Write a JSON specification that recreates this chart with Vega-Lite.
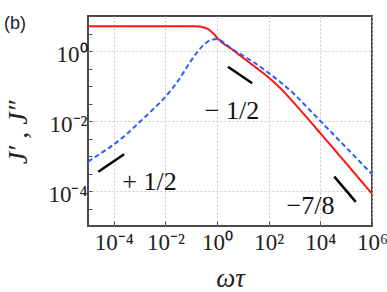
{
  "$schema": "https://vega.github.io/schema/vega-lite/v6.json",
  "width": 284,
  "height": 210,
  "autosize": {"type": "none"},
  "padding": {"left": 88, "top": 16, "right": 15, "bottom": 66},
  "background": "white",
  "config": {
    "view": {"stroke": "#4a4a4a", "strokeWidth": 2},
    "axis": {"domain": false, "labelColor": "#222", "tickColor": "#555", "tickWidth": 1, "titleColor": "#222"}
  },
  "title": {
    "text": "(b)",
    "anchor": "start",
    "frame": "group",
    "font": "Liberation Sans",
    "fontSize": 18,
    "fontWeight": "normal",
    "color": "#222",
    "offset": 0,
    "dx": -84,
    "dy": 25
  },
  "datasets": {
    "curves": [
      {"s": "J1", "x": 1e-5, "y": 5.129},
      {"s": "J1", "x": 0.01, "y": 5.129},
      {"s": "J1", "x": 0.1, "y": 5.129},
      {"s": "J1", "x": 0.1995, "y": 5.012},
      {"s": "J1", "x": 0.3162, "y": 4.677},
      {"s": "J1", "x": 0.5012, "y": 3.981},
      {"s": "J1", "x": 0.7079, "y": 3.162},
      {"s": "J1", "x": 1, "y": 2.399},
      {"s": "J1", "x": 1.413, "y": 1.862},
      {"s": "J1", "x": 1.995, "y": 1.514},
      {"s": "J1", "x": 3.162, "y": 1.23},
      {"s": "J1", "x": 5.623, "y": 0.8913},
      {"s": "J1", "x": 10, "y": 0.6457},
      {"s": "J1", "x": 31.62, "y": 0.3388},
      {"s": "J1", "x": 100, "y": 0.1738},
      {"s": "J1", "x": 316.2, "y": 0.07943},
      {"s": "J1", "x": 1000, "y": 0.03162},
      {"s": "J1", "x": 3162, "y": 0.01202},
      {"s": "J1", "x": 10000, "y": 0.004467},
      {"s": "J1", "x": 31623, "y": 0.001660},
      {"s": "J1", "x": 100000, "y": 0.000617},
      {"s": "J1", "x": 316228, "y": 0.0002265},
      {"s": "J1", "x": 1000000, "y": 0.00008318},
      {"s": "J2", "x": 1e-5, "y": 0.000692},
      {"s": "J2", "x": 3.162e-5, "y": 0.001202},
      {"s": "J2", "x": 1e-4, "y": 0.002138},
      {"s": "J2", "x": 3.162e-4, "y": 0.004266},
      {"s": "J2", "x": 0.001, "y": 0.009333},
      {"s": "J2", "x": 0.003162, "y": 0.02089},
      {"s": "J2", "x": 0.01, "y": 0.04898},
      {"s": "J2", "x": 0.03162, "y": 0.1445},
      {"s": "J2", "x": 0.1, "y": 0.537},
      {"s": "J2", "x": 0.1778, "y": 0.955},
      {"s": "J2", "x": 0.3162, "y": 1.549},
      {"s": "J2", "x": 0.5623, "y": 2.042},
      {"s": "J2", "x": 1, "y": 2.188},
      {"s": "J2", "x": 1.778, "y": 1.778},
      {"s": "J2", "x": 3.162, "y": 1.259},
      {"s": "J2", "x": 5.623, "y": 0.955},
      {"s": "J2", "x": 10, "y": 0.741},
      {"s": "J2", "x": 31.62, "y": 0.4365},
      {"s": "J2", "x": 100, "y": 0.2344},
      {"s": "J2", "x": 316.2, "y": 0.1202},
      {"s": "J2", "x": 1000, "y": 0.05754},
      {"s": "J2", "x": 3162, "y": 0.02399},
      {"s": "J2", "x": 10000, "y": 0.01},
      {"s": "J2", "x": 31623, "y": 0.004169},
      {"s": "J2", "x": 100000, "y": 0.001738},
      {"s": "J2", "x": 316228, "y": 0.000724},
      {"s": "J2", "x": 1000000, "y": 0.000302}
    ],
    "markers": [
      {"m": "a", "x": 2.512e-5, "y": 0.000355},
      {"m": "a", "x": 2.512e-4, "y": 0.001122},
      {"m": "b", "x": 2.63, "y": 0.3548},
      {"m": "b", "x": 22.91, "y": 0.1202},
      {"m": "c", "x": 34674, "y": 0.000257},
      {"m": "c", "x": 234423, "y": 0.000049}
    ],
    "labels": [
      {"t": "+ 1/2", "x": 0.0024, "y": 0.000182},
      {"t": "− 1/2", "x": 3.8, "y": 0.0195},
      {"t": "−7/8", "x": 4169, "y": 0.0000372}
    ]
  },
  "encoding": {
    "x": {
      "field": "x",
      "type": "quantitative",
      "scale": {"type": "log", "domain": [1e-5, 1000000], "nice": false},
      "axis": {
        "title": "ωτ",
        "values": [0.0001, 0.01, 1, 100, 10000, 1000000],
        "labelExpr": "datum.value < 1e-3 ? '10⁻⁴' : datum.value < 0.1 ? '10⁻²' : datum.value < 10 ? '10⁰' : datum.value < 1000 ? '10²' : datum.value < 1e5 ? '10⁴' : '10⁶'",
        "labelFont": "Liberation Serif",
        "labelFontSize": 23,
        "labelPadding": 10,
        "labelFlush": false,
        "labelOverlap": false,
        "tickSize": -5,
        "grid": true,
        "gridColor": "#c8c8c8",
        "gridDash": [2, 2],
        "gridWidth": 1,
        "titleFont": "Liberation Serif",
        "titleFontStyle": "italic",
        "titleFontWeight": "normal",
        "titleFontSize": 27,
        "titleBaseline": "alphabetic",
        "titleY": 60
      }
    },
    "y": {
      "field": "y",
      "type": "quantitative",
      "scale": {"type": "log", "domain": [1e-5, 10], "nice": false},
      "axis": {
        "title": "J′ , J″",
        "values": [1e-5, 3.162e-5, 0.0001, 0.0003162, 0.001, 0.003162, 0.01, 0.03162, 0.1, 0.3162, 1, 3.162, 10],
        "labelExpr": "round(log(datum.value)/LN10*2) == -8 ? '10⁻⁴' : round(log(datum.value)/LN10*2) == -4 ? '10⁻²' : round(log(datum.value)/LN10*2) == 0 ? '10⁰' : ''",
        "labelFont": "Liberation Serif",
        "labelFontSize": 23,
        "labelPadding": 5,
        "labelOffset": 3,
        "labelBaseline": "middle",
        "labelFlush": false,
        "labelOverlap": false,
        "tickSize": -4,
        "grid": true,
        "gridColor": "#c8c8c8",
        "gridDash": [2, 2],
        "gridWidth": 1,
        "gridOpacity": {"condition": {"test": "indexof([-8, -4, 0], round(log(datum.value)/LN10*2)) >= 0", "value": 1}, "value": 0},
        "titleFont": "Liberation Serif",
        "titleFontStyle": "italic",
        "titleFontWeight": "normal",
        "titleFontSize": 28,
        "titleBaseline": "alphabetic",
        "titleX": -62,
        "titleY": 116
      }
    }
  },
  "layer": [
    {
      "data": {"name": "curves"},
      "mark": {"type": "line", "strokeWidth": 2, "interpolate": "monotone", "clip": true},
      "encoding": {
        "color": {"field": "s", "type": "nominal", "scale": {"domain": ["J1", "J2"], "range": ["#ff1414", "#2d5cff"]}, "legend": null},
        "strokeDash": {"field": "s", "type": "nominal", "scale": {"domain": ["J1", "J2"], "range": [[1, 0], [5, 3]]}, "legend": null}
      }
    },
    {
      "data": {"name": "markers"},
      "mark": {"type": "line", "color": "black", "strokeWidth": 2.5},
      "encoding": {"detail": {"field": "m", "type": "nominal"}}
    },
    {
      "data": {"name": "labels"},
      "mark": {"type": "text", "font": "Liberation Serif", "fontSize": 26, "color": "#111", "align": "center", "baseline": "middle"},
      "encoding": {"text": {"field": "t", "type": "nominal"}}
    }
  ]
}
